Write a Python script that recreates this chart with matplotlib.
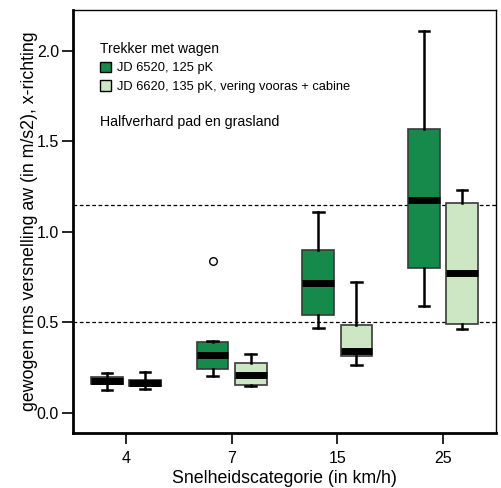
import matplotlib
matplotlib.use("Agg")
import matplotlib.pyplot as plt
from matplotlib.patches import Patch

plt.rcParams['font.family'] = ['Liberation Sans', 'DejaVu Sans']

# snelheidscategorieen (km/h)
categories = ["4", "7", "15", "25"]

# JD 6520, 125 pK
green_whislo = [0.125, 0.203, 0.47, 0.59]
green_q1 = [0.159, 0.24, 0.541, 0.80]
green_med = [0.175, 0.319, 0.715, 1.177]
green_q3 = [0.199, 0.389, 0.90, 1.566]
green_whishi = [0.221, 0.398, 1.107, 2.11]
green_fliers = [[], [0.84], [], []]

# JD 6620, 135 pK, vering vooras + cabine
light_whislo = [0.133, 0.15, 0.264, 0.462]
light_q1 = [0.149, 0.151, 0.313, 0.488]
light_med = [0.164, 0.21, 0.339, 0.774]
light_q3 = [0.181, 0.273, 0.486, 1.157]
light_whishi = [0.227, 0.324, 0.72, 1.229]
light_fliers = [[], [], [], []]

grenzen = [0.5, 1.15]

GREEN = "#168a4a"
LIGHT = "#cde6c4"


def make_stats(lo, q1, med, q3, hi, fliers):
    stats = []
    for i in range(len(med)):
        stats.append({"whislo": lo[i], "q1": q1[i], "med": med[i],
                      "q3": q3[i], "whishi": hi[i], "fliers": fliers[i]})
    return stats


def draw_group(ax, stats, positions, color):
    ax.bxp(stats, positions=positions, widths=0.3, patch_artist=True,
           showfliers=True,
           boxprops=dict(facecolor=color, edgecolor="#3a3a3a", linewidth=1.2),
           medianprops=dict(color="black", linewidth=5, solid_capstyle="butt"),
           whiskerprops=dict(color="black", linewidth=1.8),
           capprops=dict(color="black", linewidth=1.8),
           capwidths=0.1,
           flierprops=dict(marker="o", markerfacecolor="white",
                           markeredgecolor="black", markersize=5.5))


fig = plt.figure(figsize=(5.02, 4.88), dpi=100)
ax = fig.add_axes([0.1454, 0.1127, 0.8426, 0.8668])

x = list(range(1, len(categories) + 1))
offset = 0.18

for g in grenzen:
    ax.axhline(g, color="black", linestyle=(0, (3, 2)), linewidth=0.9, zorder=0)

draw_group(ax, make_stats(green_whislo, green_q1, green_med, green_q3, green_whishi, green_fliers),
           [p - offset for p in x], GREEN)
draw_group(ax, make_stats(light_whislo, light_q1, light_med, light_q3, light_whishi, light_fliers),
           [p + offset for p in x], LIGHT)

ax.set_xlim(0.5, 4.5)
ax.set_ylim(-0.112, 2.225)
ax.set_xticks(x)
ax.set_xticklabels(categories)
ax.set_yticks([0.0, 0.5, 1.0, 1.5, 2.0])
ax.set_yticklabels(["0.0", "0.5", "1.0", "1.5", "2.0"])
ax.tick_params(direction="out", length=8, width=1.2, labelsize=11.5, pad=2)
ax.tick_params(axis="x", pad=5)

ax.set_xlabel("Snelheidscategorie (in km/h)", fontsize=12.8, labelpad=3)
ax.set_ylabel("gewogen rms versnelling aw (in m/s2), x-richting", fontsize=12.8, labelpad=-1)

for side in ["top", "right"]:
    ax.spines[side].set_linewidth(1.0)
for side in ["left", "bottom"]:
    ax.spines[side].set_linewidth(2.0)

handles = [Patch(facecolor=GREEN, edgecolor="black", linewidth=1),
           Patch(facecolor=LIGHT, edgecolor="black", linewidth=1)]
leg = ax.legend(handles, ["JD 6520, 125 pK", "JD 6620, 135 pK, vering vooras + cabine"],
                title="Trekker met wagen", loc="upper left", bbox_to_anchor=(0.064, 0.925),
                frameon=False, fontsize=9.3, title_fontsize=10,
                handlelength=0.85, handleheight=0.9, handletextpad=0.45,
                labelspacing=0.45, borderpad=0, borderaxespad=0)
leg._legend_box.align = "left"

ax.text(0.063, 0.735, "Halfverhard pad en grasland", transform=ax.transAxes,
        fontsize=10.2, ha="left", va="center")

fig.savefig("out.png", dpi=100)
